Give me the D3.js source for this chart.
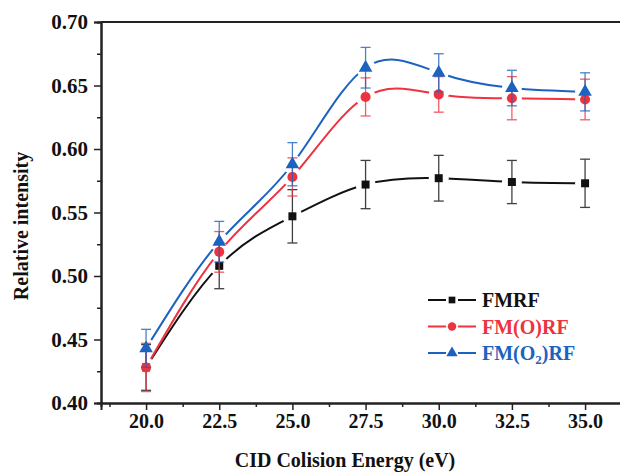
<!DOCTYPE html>
<html>
<head>
<meta charset="utf-8">
<script src="https://cdn.jsdelivr.net/npm/d3@7"></script>
<style>
  body { margin: 0; background: #fff; }
  svg { display: block; font-family: "Liberation Serif", "Times New Roman", serif; font-weight: bold; }
</style>
</head>
<body>
<svg id="chart" width="620" height="473"></svg>
<script>
// CID collision energy (eV)
const energy = [20, 22.5, 25, 27.5, 30, 32.5, 35];

const fmrf = [0.428, 0.508, 0.547, 0.572, 0.577, 0.574, 0.573];
const fmrfErr = [0.018, 0.018, 0.021, 0.019, 0.018, 0.017, 0.019];

const fmorf = [0.428, 0.519, 0.578, 0.641, 0.643, 0.640, 0.639];
const fmorfErr = [0.019, 0.016, 0.015, 0.015, 0.014, 0.017, 0.016];

const fmo2rf = [0.443, 0.527, 0.588, 0.664, 0.660, 0.648, 0.645];
const fmo2rfErr = [0.015, 0.016, 0.017, 0.016, 0.015, 0.014, 0.015];

const xTicks = [20, 22.5, 25, 27.5, 30, 32.5, 35];
const yTicks = [0.40, 0.45, 0.50, 0.55, 0.60, 0.65, 0.70];

const series = [
    { name: "FMRF", values: fmrf, errs: fmrfErr, color: "#111111", symbol: d3.symbolSquare, size: 64 },
    { name: "FM(O)RF", values: fmorf, errs: fmorfErr, color: "#ee3340", symbol: d3.symbolCircle, size: 80 },
    { name: "FM(O2)RF", values: fmo2rf, errs: fmo2rfErr, color: "#1c63bf", symbol: d3.symbolTriangle, size: 80 }
];

const plotLeft = 101, plotTop = 22, plotBottom = 403;
const pxPerUnit = (585 - 146) / 15;
const serif = '"Liberation Serif", "Times New Roman", serif';

const x = d3.scaleLinear()
    .domain([18.46, 36.6])
    .range([plotLeft, plotLeft + 18.14 * pxPerUnit]);
const y = d3.scaleLinear()
    .domain([0.40, 0.70])
    .range([plotBottom, plotTop]);

const svg = d3.select("#chart");
const defs = svg.append("defs");

// axes: major ticks outward, minor ticks halfway
const xAxis = svg.append("g")
    .attr("transform", "translate(0," + plotBottom + ")")
    .call(d3.axisBottom(x).tickValues(xTicks).tickFormat(d3.format(".1f")).tickSize(7).tickPadding(4));
svg.append("g")
    .attr("transform", "translate(0," + plotBottom + ")")
    .call(d3.axisBottom(x).tickValues(d3.range(18.75, 36.5, 2.5)).tickFormat("").tickSize(4));

const yAxis = svg.append("g")
    .attr("transform", "translate(" + plotLeft + ",0)")
    .call(d3.axisLeft(y).tickValues(yTicks).tickFormat(d3.format(".2f")).tickSize(7).tickPadding(6));
svg.append("g")
    .attr("transform", "translate(" + plotLeft + ",0)")
    .call(d3.axisLeft(y).tickValues(d3.range(0.425, 0.7, 0.05)).tickFormat("").tickSize(4));

svg.selectAll(".domain").attr("stroke", "#222").attr("stroke-width", 2);
svg.selectAll(".tick line").attr("stroke", "#222").attr("stroke-width", 1.5);
xAxis.attr("font-family", serif).attr("font-weight", "bold");
yAxis.attr("font-family", serif).attr("font-weight", "bold");
xAxis.selectAll("text").attr("font-size", 20).attr("fill", "#111");
yAxis.selectAll("text").attr("font-size", 21).attr("fill", "#111");

// top frame line
svg.append("line")
    .attr("x1", plotLeft).attr("x2", 620)
    .attr("y1", plotTop).attr("y2", plotTop)
    .attr("stroke", "#222").attr("stroke-width", 2);

// axis titles
svg.append("text")
    .attr("x", 345).attr("y", 467)
    .attr("text-anchor", "middle")
    .attr("font-size", 20)
    .attr("fill", "#111")
    .text("CID Colision Energy (eV)");

svg.append("text")
    .attr("transform", "translate(28,226) rotate(-90)")
    .attr("text-anchor", "middle")
    .attr("font-size", 20)
    .attr("fill", "#111")
    .text("Relative intensity");

const line = d3.line()
    .x(d => x(d[0]))
    .y(d => y(d[1]))
    .curve(d3.curveNatural);

series.forEach((s, i) => {
    const pts = energy.map((e, j) => [e, s.values[j]]);

    // gap around each symbol, like the original plot
    const mask = defs.append("mask").attr("id", "gap" + i)
        .attr("maskUnits", "userSpaceOnUse")
        .attr("x", 0).attr("y", 0).attr("width", 620).attr("height", 473);
    mask.append("rect").attr("x", 0).attr("y", 0).attr("width", 620).attr("height", 473).attr("fill", "#fff");
    mask.selectAll("circle").data(pts).enter().append("circle")
        .attr("cx", d => x(d[0])).attr("cy", d => y(d[1])).attr("r", 10).attr("fill", "#000");

    svg.append("path")
        .datum(pts)
        .attr("d", line)
        .attr("fill", "none")
        .attr("stroke", s.color)
        .attr("stroke-width", 2)
        .attr("mask", "url(#gap" + i + ")");

    const eb = svg.append("g").attr("stroke", s.color).attr("stroke-width", 1.3).attr("opacity", 0.8);
    energy.forEach((e, j) => {
        const cx = x(e), y0 = y(s.values[j] - s.errs[j]), y1 = y(s.values[j] + s.errs[j]);
        eb.append("line").attr("x1", cx).attr("x2", cx).attr("y1", y0).attr("y2", y1);
        eb.append("line").attr("x1", cx - 5).attr("x2", cx + 5).attr("y1", y0).attr("y2", y0);
        eb.append("line").attr("x1", cx - 5).attr("x2", cx + 5).attr("y1", y1).attr("y2", y1);
    });

    svg.append("g").selectAll("path").data(pts).enter().append("path")
        .attr("d", d3.symbol().type(s.symbol).size(s.size))
        .attr("transform", d => "translate(" + x(d[0]) + "," + y(d[1]) + ")")
        .attr("fill", s.color);
});

// legend
const legend = svg.append("g");
series.forEach((s, i) => {
    const cy = 300 + i * 26.5;
    const row = legend.append("g");
    row.append("line").attr("x1", 428).attr("x2", 446).attr("y1", cy).attr("y2", cy)
        .attr("stroke", s.color).attr("stroke-width", 2);
    row.append("line").attr("x1", 458).attr("x2", 476).attr("y1", cy).attr("y2", cy)
        .attr("stroke", s.color).attr("stroke-width", 2);
    row.append("path")
        .attr("d", d3.symbol().type(s.symbol).size(s.size * 0.7))
        .attr("transform", "translate(452," + cy + ")")
        .attr("fill", s.color);
    const t = row.append("text")
        .attr("x", 482).attr("y", cy + 7)
        .attr("font-size", 20)
        .attr("fill", s.color);
    if (s.name === "FM(O2)RF") {
        t.append("tspan").text("FM(O");
        t.append("tspan").attr("font-size", 13).attr("dy", 4).text("2");
        t.append("tspan").attr("dy", -4).text(")RF");
    } else {
        t.text(s.name);
    }
});
</script>
</body>
</html>
